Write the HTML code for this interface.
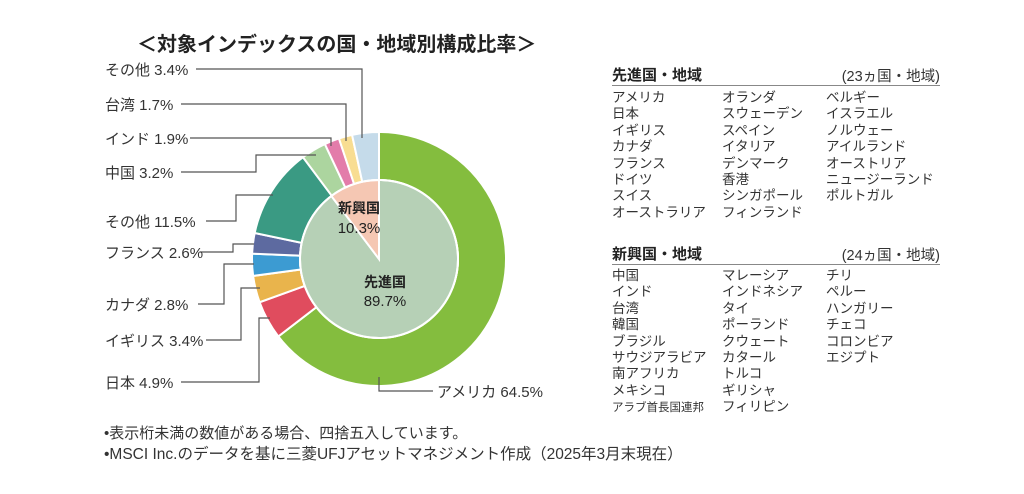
<!DOCTYPE html>
<html><head><meta charset="utf-8"><style>
body{margin:0;background:#fff;width:1024px;height:494px;overflow:hidden;font-family:"Liberation Sans","Noto Sans CJK JP",sans-serif;color:#222}
.t{position:absolute;white-space:nowrap}
.col{position:absolute;font-size:13.5px;line-height:16.4px;color:#333}
.h{position:absolute;font-size:15px;font-weight:bold;color:#222}
.n{position:absolute;font-size:14.5px;color:#333;text-align:right}
.rule{position:absolute;height:1px;background:#888;left:612px;width:328px}
</style></head><body>
<div class="t" style="left:137px;top:28px;font-size:20px;font-weight:bold;">＜対象インデックスの国・地域別構成比率＞</div>
<svg id="s" width="1024" height="494" style="position:absolute;left:0;top:0" font-family="Liberation Sans, Noto Sans CJK JP, sans-serif"></svg>
<div class="h" style="left:612px;top:64px">先進国・地域</div>
<div class="n" style="left:760px;width:180px;top:65px">(23ヵ国・地域)</div>
<div class="rule" style="top:85px"></div>
<div class="col" style="left:612px;top:90px">アメリカ<br>日本<br>イギリス<br>カナダ<br>フランス<br>ドイツ<br>スイス<br>オーストラリア</div>
<div class="col" style="left:722px;top:90px">オランダ<br>スウェーデン<br>スペイン<br>イタリア<br>デンマーク<br>香港<br>シンガポール<br>フィンランド</div>
<div class="col" style="left:826px;top:90px">ベルギー<br>イスラエル<br>ノルウェー<br>アイルランド<br>オーストリア<br>ニュージーランド<br>ポルトガル</div>
<div class="h" style="left:612px;top:243px">新興国・地域</div>
<div class="n" style="left:760px;width:180px;top:244px">(24ヵ国・地域)</div>
<div class="rule" style="top:264px"></div>
<div class="col" style="left:612px;top:268px">中国<br>インド<br>台湾<br>韓国<br>ブラジル<br>サウジアラビア<br>南アフリカ<br>メキシコ<br><span style="font-size:11.5px">アラブ首長国連邦</span></div>
<div class="col" style="left:722px;top:268px">マレーシア<br>インドネシア<br>タイ<br>ポーランド<br>クウェート<br>カタール<br>トルコ<br>ギリシャ<br>フィリピン</div>
<div class="col" style="left:826px;top:268px">チリ<br>ペルー<br>ハンガリー<br>チェコ<br>コロンビア<br>エジプト</div>
<div class="t" style="left:104px;top:422px;font-size:15px;color:#333">•表示桁未満の数値がある場合、四捨五入しています。</div>
<div class="t" style="left:104px;top:442px;font-size:15.5px;color:#333">•MSCI Inc.のデータを基に三菱UFJアセットマネジメント作成（2025年3月末現在）</div>
<script>
var s=document.getElementById('s'),cx=379,cy=259,R=127,r=79,h='';
function pt(a,rr){a=a*Math.PI/180;return [cx+rr*Math.sin(a),cy-rr*Math.cos(a)];}
function ring(a0,a1,r0,r1,c){var p=pt(a0,r1),q=pt(a1,r1),u=pt(a1,r0),v=pt(a0,r0),l=(a1-a0)>180?1:0;
return '<path d="M'+p+' A'+r1+','+r1+' 0 '+l+' 1 '+q+' L'+u+' A'+r0+','+r0+' 0 '+l+' 0 '+v+'Z" fill="'+c+'" stroke="#fff" stroke-width="2"/>';}
function pie(a0,a1,rr,c){var p=pt(a0,rr),q=pt(a1,rr),l=(a1-a0)>180?1:0;
return '<path d="M'+cx+','+cy+' L'+p+' A'+rr+','+rr+' 0 '+l+' 1 '+q+'Z" fill="'+c+'" stroke="#fff" stroke-width="2"/>';}
var d=[[64.5,'#84bd3e'],[4.9,'#e04c5e'],[3.4,'#e9b44c'],[2.8,'#3c9bd2'],[2.6,'#5d6aa0'],[11.5,'#3a9a83'],[3.2,'#acd59f'],[1.9,'#e37caa'],[1.7,'#f8dd92'],[3.4,'#c5dbea']];
var tot=0;d.forEach(function(x){tot+=x[0]});var a=0;
d.forEach(function(x,i){var b=a+x[0]/tot*360;h+=ring(a,b,r,R,x[1]);a=b;});
h+=pie(0,322.9,r,'#b6d0b6');h+=pie(322.9,360,r,'#f5c7b3');
h+='<circle cx="'+cx+'" cy="'+cy+'" r="'+r+'" fill="none" stroke="#fff" stroke-width="2"/>';
var L=[[196,69,362,69,362,138],[181,104,346,104,346,141],[190,138,331,138,331,146],[181,172,256,172,256,155,316,155],[206,221,236,221,236,195,273,195],[200,252,233,252,233,244,254,244],[198,304,224,304,224,264,254,264],[206,340,241,340,241,288,260,288],[181,382,259,382,259,318,270,318],[379,377,379,391,433,391]];
L.forEach(function(p){var pp='';for(var i=0;i<p.length;i+=2)pp+=p[i]+','+p[i+1]+' ';h+='<polyline points="'+pp+'" fill="none" stroke="#555" stroke-width="1.2"/>';});
var T=[['その他 3.4%',105,75],['台湾 1.7%',105,110],['インド 1.9%',105,144],['中国 3.2%',105,178],['その他 11.5%',105,227],['フランス 2.6%',105,258],['カナダ 2.8%',105,310],['イギリス 3.4%',105,346],['日本 4.9%',105,388],['アメリカ 64.5%',437,397]];
T.forEach(function(t){h+='<text x="'+t[1]+'" y="'+t[2]+'" font-size="15" fill="#333">'+t[0]+'</text>';});
h+='<text x="359" y="213" font-size="14" font-weight="bold" text-anchor="middle" fill="#222">新興国</text><text x="359" y="233" font-size="15" text-anchor="middle" fill="#222">10.3%</text>';
h+='<text x="385" y="287" font-size="14" font-weight="bold" text-anchor="middle" fill="#222">先進国</text><text x="385" y="306" font-size="15" text-anchor="middle" fill="#222">89.7%</text>';
s.innerHTML=h;
</script>
</body></html>
